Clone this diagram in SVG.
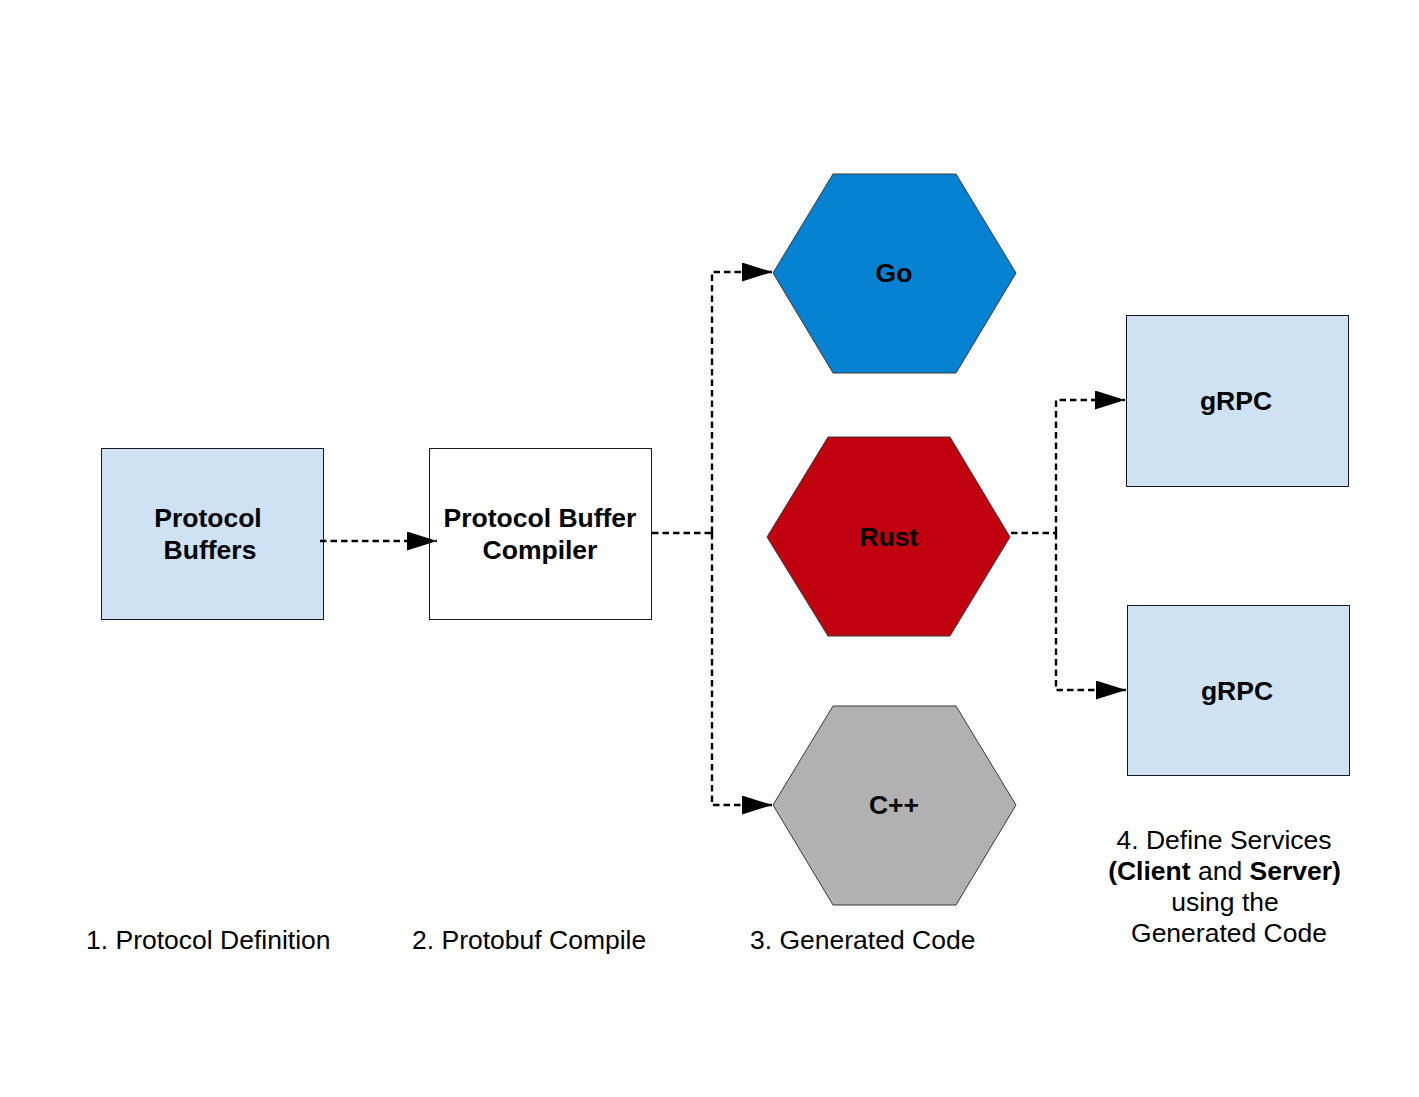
<svg xmlns="http://www.w3.org/2000/svg" width="1419" height="1097" viewBox="0 0 1419 1097">
<style>
.box{stroke:#1a1a1a;stroke-width:1}
.lb{fill:#cfe2f3}
.hex{stroke:#3a3a3a;stroke-width:1}
.t{font-family:"Liberation Sans",Arial,sans-serif;font-size:26.5px;font-weight:bold;fill:#000;text-anchor:middle}
.c{font-family:"Liberation Sans",Arial,sans-serif;font-size:26.5px;fill:#000}
.ln{fill:none;stroke:#000;stroke-width:2.4;stroke-dasharray:6.5,4}
</style>
<defs>
<marker id="ah" markerUnits="userSpaceOnUse" markerWidth="31" markerHeight="20" refX="30" refY="9.5" orient="auto">
<path d="M0,0 L30,9.5 L0,19 z" fill="#000"/>
</marker>
</defs>
<rect width="1419" height="1097" fill="#fff"/>
<g id="protocol-buffers">
<rect class="box lb" x="101.5" y="448.5" width="222" height="171"/>
<text class="t" x="208" y="527">Protocol</text>
<text class="t" x="210" y="559">Buffers</text>
</g>
<g id="compiler">
<rect class="box" fill="#fff" x="429.5" y="448.5" width="222" height="171"/>
<text class="t" x="540" y="527">Protocol Buffer</text>
<text class="t" x="540" y="559">Compiler</text>
</g>
<g id="go">
<polygon class="hex" fill="#0482d1" points="833,174 956,174 1016,273 956,373 833,373 773,273"/>
<text class="t" x="894" y="282">Go</text>
</g>
<g id="rust">
<polygon class="hex" fill="#c1000f" points="828,437 950,437 1010,537 950,636 828,636 767,537"/>
<text class="t" x="889" y="546">Rust</text>
</g>
<g id="cpp">
<polygon class="hex" fill="#b1b1b1" points="833,706 956,706 1016,805 956,905 833,905 773,805"/>
<text class="t" x="894" y="814">C++</text>
</g>
<g id="grpc-1">
<rect class="box lb" x="1126.5" y="315.5" width="222" height="171"/>
<text class="t" x="1236" y="410">gRPC</text>
</g>
<g id="grpc-2">
<rect class="box lb" x="1127.5" y="605.5" width="222" height="170"/>
<text class="t" x="1237" y="700">gRPC</text>
</g>
<g id="connectors">
<path class="ln" d="M320,541 H437" marker-end="url(#ah)"/>
<path class="ln" d="M652,533 H712"/>
<path class="ln" d="M712,533 V272 H772" marker-end="url(#ah)"/>
<path class="ln" d="M712,533 V805 H772" marker-end="url(#ah)"/>
<path class="ln" d="M1011,533 H1056"/>
<path class="ln" d="M1056,533 V400 H1125" marker-end="url(#ah)"/>
<path class="ln" d="M1056,533 V690 H1126" marker-end="url(#ah)"/>
</g>
<g id="labels">
<text class="c" x="86" y="949">1. Protocol Definition</text>
<text class="c" x="412" y="949">2. Protobuf Compile</text>
<text class="c" x="750" y="949">3. Generated Code</text>
<text class="c" text-anchor="middle" x="1224" y="849">4. Define Services</text>
<text class="c" text-anchor="middle" x="1224.5" y="880"><tspan font-weight="bold">(Client</tspan> and <tspan font-weight="bold">Server)</tspan></text>
<text class="c" text-anchor="middle" x="1225" y="911">using the</text>
<text class="c" text-anchor="middle" x="1229" y="942">Generated Code</text>
</g>
</svg>
